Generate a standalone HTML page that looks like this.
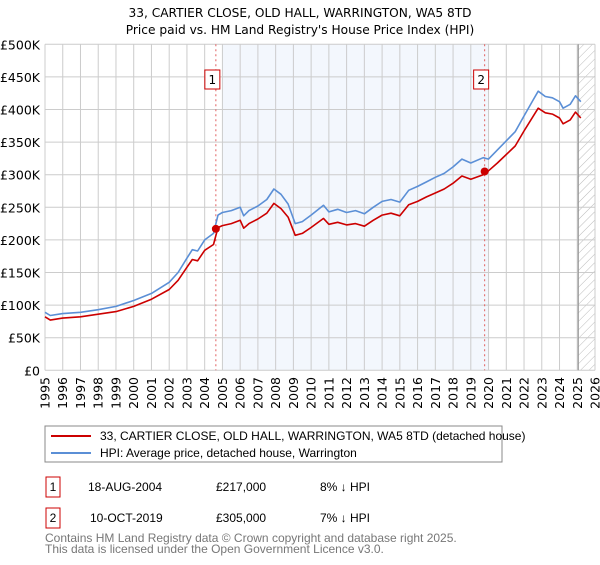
<!DOCTYPE html>
<html><head><meta charset="utf-8"><style>
body{margin:0;background:#fff;font-family:"Liberation Sans","DejaVu Sans",sans-serif;}
svg text{font-family:"DejaVu Sans","Liberation Sans",sans-serif;}
svg text.ls{font-family:"Liberation Sans","DejaVu Sans",sans-serif;}
</style></head><body>
<svg id="c" width="600" height="560" xmlns="http://www.w3.org/2000/svg">
<defs><pattern id="hatch" width="6" height="6" patternUnits="userSpaceOnUse" patternTransform="rotate(45)"><line x1="0" y1="0" x2="0" y2="6" stroke="#bbb" stroke-width="1"/></pattern></defs>
<text x="300" y="17" text-anchor="middle" font-size="12.2">33, CARTIER CLOSE, OLD HALL, WARRINGTON, WA5 8TD</text>
<text x="300" y="34" text-anchor="middle" font-size="12.2">Price paid vs. HM Land Registry's House Price Index (HPI)</text>
<g id="plot"></g>
<rect x="45" y="426" width="457" height="36" fill="#fff" stroke="#888"/>
<line x1="51" y1="436" x2="91" y2="436" stroke="#cc0000" stroke-width="2"/>
<text class="ls" x="100" y="440" font-size="12">33, CARTIER CLOSE, OLD HALL, WARRINGTON, WA5 8TD (detached house)</text>
<line x1="51" y1="453" x2="91" y2="453" stroke="#5b8fd6" stroke-width="2"/>
<text class="ls" x="100" y="457" font-size="12">HPI: Average price, detached house, Warrington</text>
<rect x="46" y="477" width="14" height="20" fill="#fff" stroke="#c00"/>
<text class="ls" x="53" y="491" text-anchor="middle" font-size="12">1</text>
<text class="ls" x="88" y="491" font-size="12">18-AUG-2004</text>
<text class="ls" x="216" y="491" font-size="12">£217,000</text>
<text class="ls" x="320" y="491" font-size="12">8% ↓ HPI</text>
<rect x="46" y="508" width="14" height="20" fill="#fff" stroke="#c00"/>
<text class="ls" x="53" y="522" text-anchor="middle" font-size="12">2</text>
<text class="ls" x="90" y="522" font-size="12">10-OCT-2019</text>
<text class="ls" x="216" y="522" font-size="12">£305,000</text>
<text class="ls" x="320" y="522" font-size="12">7% ↓ HPI</text>
<text class="ls" x="45" y="542" font-size="12" fill="#777">Contains HM Land Registry data © Crown copyright and database right 2025.</text>
<text class="ls" x="45" y="553" font-size="12" fill="#777">This data is licensed under the Open Government Licence v3.0.</text>
</svg>
<script>
const yearTicks=[1995,1996,1997,1998,1999,2000,2001,2002,2003,2004,2005,2006,2007,2008,2009,2010,2011,2012,2013,2014,2015,2016,2017,2018,2019,2020,2021,2022,2023,2024,2025,2026];
const valueTicks=[0,50000,100000,150000,200000,250000,300000,350000,400000,450000,500000];
const valueTickLabels=["£0","£50K","£100K","£150K","£200K","£250K","£300K","£350K","£400K","£450K","£500K"];
const hpiYears=[1995,1995.3,1996,1997,1998,1999,2000,2001,2002,2002.5,2003,2003.3,2003.6,2004,2004.5,2004.75,2005,2005.5,2006,2006.2,2006.5,2007,2007.5,2007.9,2008.3,2008.7,2009.1,2009.5,2010,2010.7,2011,2011.5,2012,2012.5,2013,2013.5,2014,2014.5,2015,2015.5,2016,2016.5,2017,2017.5,2018,2018.5,2019,2019.7,2020,2020.5,2021,2021.5,2022,2022.5,2022.8,2023.2,2023.6,2024,2024.2,2024.6,2024.9,2025.2];
const hpiValues=[89000,84000,87000,89000,93000,98000,107000,118000,135000,150000,172000,185000,183000,200000,210000,238000,242000,245000,250000,237000,245000,252000,262000,278000,270000,255000,225000,228000,238000,253000,243000,247000,242000,245000,240000,250000,259000,262000,258000,276000,282000,289000,296000,302000,312000,324000,318000,326000,324000,338000,352000,366000,390000,414000,428000,420000,418000,412000,402000,408000,421000,412000];
const priceYears=hpiYears;
const priceValues=[82000,77000,80000,82000,86000,90000,98000,109000,124000,138000,158000,170000,168000,184000,193000,219000,222000,225000,230000,218000,225000,232000,241000,256000,248000,235000,207000,210000,219000,233000,224000,227000,223000,225000,221000,230000,238000,241000,237000,254000,259000,266000,272000,278000,287000,298000,293000,300000,306000,318000,331000,344000,367000,389000,402000,395000,393000,387000,378000,384000,396000,387000];
const saleYears=[2004.63,2019.78];
const saleValues=[217000,305000];
const saleLabels=["1","2"];
const shadeRange=[2005,2020];
const forecastStart=2025.0;

const X0=45,X1=595,Y0=370.3,Y1=44.3;
const xs=y=>X0+(y-1995)/(2026-1995)*(X1-X0);
const ys=v=>Y0-v/500000*(Y0-Y1);
const NS="http://www.w3.org/2000/svg";
const g=document.getElementById('plot');
function mk(t,a){const e=document.createElementNS(NS,t);for(const k in a)e.setAttribute(k,a[k]);g.appendChild(e);return e;}
let e=mk('rect',{x:xs(shadeRange[0]),y:Y1,width:xs(shadeRange[1])-xs(shadeRange[0]),height:Y0-Y1,fill:'#eef3fc',opacity:0.7});


e=mk('rect',{x:xs(forecastStart),y:Y1,width:X1-xs(forecastStart),height:Y0-Y1,fill:'url(#hatch)'});


yearTicks.forEach(yr=>{
 const l=mk('line',{x1:xs(yr),x2:xs(yr),y1:Y1,y2:Y0,stroke:'#ccc','stroke-width':1});
 
 
 const t=mk('text',{transform:`translate(${xs(yr)+4.5},377) rotate(-90)`,'text-anchor':'end','font-size':12.5});
 t.textContent=yr;
 
 
});
valueTicks.forEach((v,i)=>{
 const l=mk('line',{x1:X0,x2:X1,y1:ys(v),y2:ys(v),stroke:'#ccc','stroke-width':1});
 
 
 const t=mk('text',{x:40,y:ys(v)+5,'text-anchor':'end','font-size':12.5});
 t.textContent=valueTickLabels[i];
 
 
});
e=mk('line',{x1:xs(forecastStart)+1,x2:xs(forecastStart)+1,y1:Y1,y2:Y0,stroke:'#999','stroke-width':1.2});


saleYears.forEach((yr,i)=>{
 const l=mk('line',{x1:xs(yr),x2:xs(yr),y1:Y1,y2:Y0,stroke:'#e06060','stroke-width':1,'stroke-dasharray':'2,3'});
 
 
 const r=mk('rect',{x:xs(yr)-11,y:70,width:15,height:19,fill:'#fff',stroke:'#c00'});
 
 
 const t=mk('text',{x:xs(yr)-3.5,y:84,'text-anchor':'middle','font-size':12});
 t.textContent=saleLabels[i];
 
 
});
function path(xa,va,col,name){
 const d=xa.map((x,i)=>(i?'L':'M')+xs(x).toFixed(1)+','+ys(va[i]).toFixed(1)).join('');
 const p=mk('path',{d:d,fill:'none',stroke:col,'stroke-width':1.6,'stroke-linejoin':'round'});
 
 
}
path(hpiYears,hpiValues,'#5b8fd6','hpi-line');
path(priceYears,priceValues,'#cc0000','price-line');
saleYears.forEach((yr,i)=>{
 const c=mk('circle',{cx:xs(yr),cy:ys(saleValues[i]),r:4,fill:'#cc0000'});
 
 
});
</script>
</body></html>
